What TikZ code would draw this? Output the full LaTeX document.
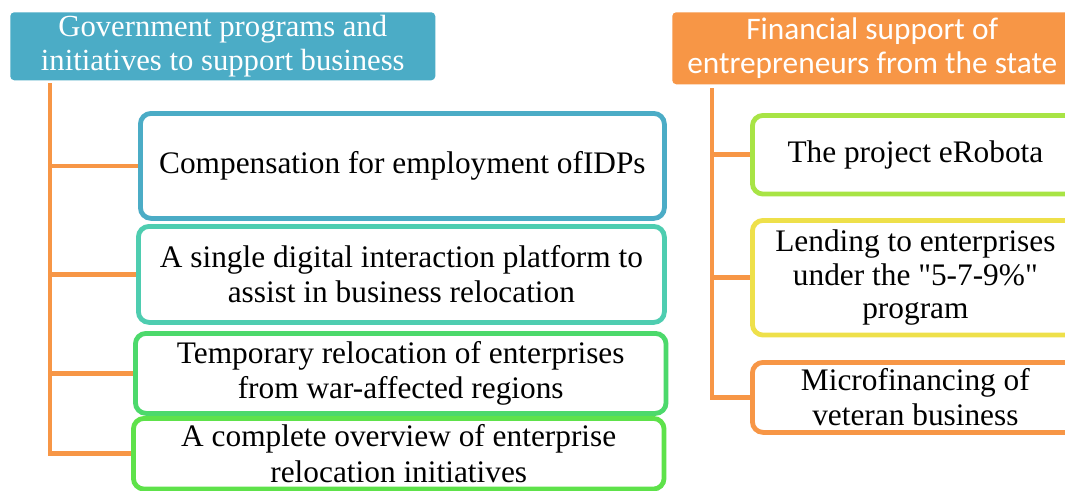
\documentclass[tikz,border=0pt]{standalone}
\usepackage{fontspec}
\setmainfont{Liberation Serif}
\newfontfamily\calibri{Carlito}
\usepackage{tikz}
\usetikzlibrary{calc}
\usepackage{xcolor}
\definecolor{HeadTeal}{HTML}{4BACC6}
\definecolor{HeadOrange}{HTML}{F79646}
\definecolor{BoxTurq}{HTML}{4ECDB0}
\definecolor{BoxGreen}{HTML}{4CD96B}
\definecolor{BoxLeaf}{HTML}{5EE24A}
\definecolor{BoxLime}{HTML}{A8E445}
\definecolor{BoxYellow}{HTML}{EEE04A}

\tikzset{
  headbox/.style={rectangle,rounded corners=3pt,anchor=north west,inner sep=0pt,
    text=white,align=center},
  itembox/.style={rectangle,rounded corners=8pt,draw,line width=3.6pt,fill=white,
    anchor=north west,inner sep=0pt,align=center,font=\rmfamily\fontsize{23.5}{26.5}\selectfont},
  trunk/.style={draw=HeadOrange,line width=3.6pt}
}

\begin{document}
\begin{tikzpicture}[x=0.75pt,y=-0.75pt]
    \clip (0,0) rectangle (1065,490);
    \fill[white] (0,0) rectangle (1065,490);

    % left column
    \node[headbox,fill=HeadTeal,minimum width=318.75pt,minimum height=51pt,
      font=\rmfamily\fontsize{23}{25}\selectfont] (lhead) at (10,12)
      {Government programs and\\initiatives to support business};
    \node[itembox,draw=HeadTeal,minimum width=393pt,minimum height=78.75pt] (lb1) at (138,111)
      {Compensation for employment ofIDPs};
    \node[itembox,draw=BoxTurq,minimum width=394.5pt,minimum height=72pt] (lb2) at (136,224)
      {A single digital interaction platform to\\assist in business relocation};
    \node[itembox,draw=BoxGreen,minimum width=398pt,minimum height=60pt] (lb3) at (133,331)
      {Temporary relocation of enterprises\\from war-affected regions};
    \node[itembox,draw=BoxLeaf,minimum width=398pt,minimum height=53pt] (lb4) at (131,416)
      {A complete overview of enterprise\\relocation initiatives};

    \coordinate (ltop) at (50,83);
    \draw[trunk] (ltop) |- (lb4.west);
    \foreach \b in {lb1,lb2,lb3}
      \draw[trunk] (ltop |- \b.west) -- (\b.west);

    % right column
    \node[headbox,fill=HeadOrange,minimum width=300pt,minimum height=54pt,
      font=\calibri\fontsize{23.5}{26}\selectfont] (rhead) at (672,12)
      {Financial support of\\entrepreneurs from the state};
    \node[itembox,draw=BoxLime,minimum width=244.5pt,minimum height=59pt] (rb1) at (750,113)
      {The project eRobota};
    \node[itembox,draw=BoxYellow,minimum width=244.5pt,minimum height=86pt,
      font=\rmfamily\fontsize{23.5}{25}\selectfont] (rb2) at (750,218)
      {Lending to enterprises\\under the \textquotedbl 5-7-9\%\textquotedbl\\program};
    \node[itembox,draw=HeadOrange,minimum width=244.5pt,minimum height=52.5pt] (rb3) at (750,360)
      {Microfinancing of\\veteran business};

    \coordinate (rtop) at (712,88);
    \draw[trunk] (rtop) |- (rb3.west);
    \foreach \b in {rb1,rb2}
      \draw[trunk] (rtop |- \b.west) -- (\b.west);
\end{tikzpicture}
\end{document}
